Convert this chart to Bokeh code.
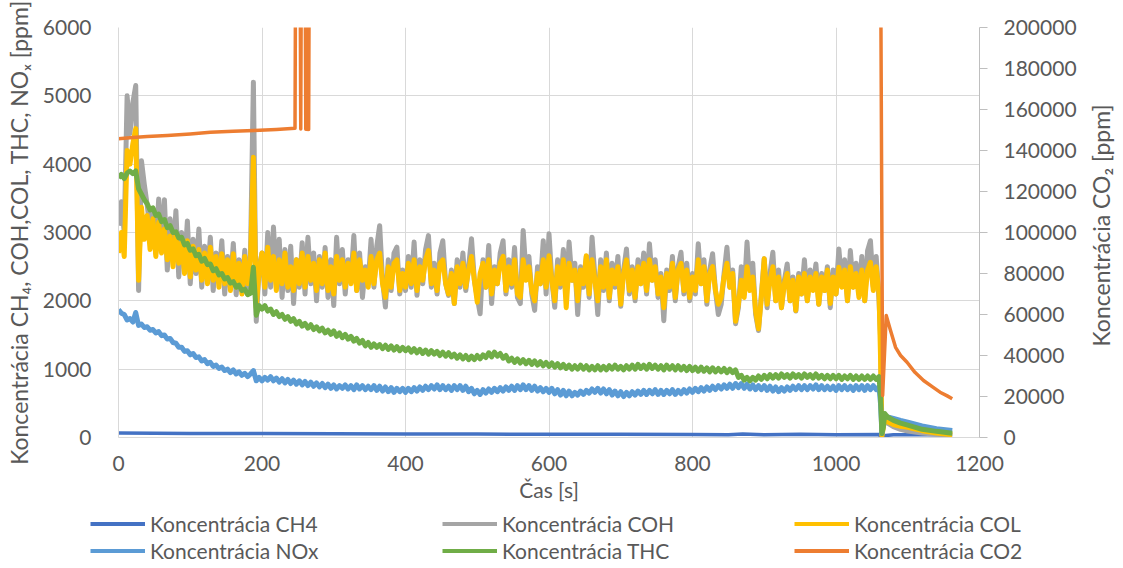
import math
from bokeh.plotting import figure
from bokeh.layouts import column, row
from bokeh.models import Range1d, LinearAxis, FixedTicker, Legend, LegendItem, BasicTickFormatter, Label
from bokeh.embed import file_html
from bokeh.resources import INLINE

# ---------------- data ----------------
time_main = list(range(0, 1061, 4))          # sampling grid 0..1060 s
time_tail = [1062, 1064, 1066, 1068, 1072, 1080, 1090, 1100, 1120, 1140, 1162]

coh_main = [
    3100, 3450, 3000, 5000, 4450, 4900, 5150, 2150, 4050, 3700,
    3400, 3050, 3350, 2700, 3490, 2800, 3480, 2450, 3200, 2600,
    3320, 2350, 3000, 2500, 3170, 2250, 2900, 2400, 3050, 2200,
    2800, 2350, 2930, 2150, 2700, 2300, 2880, 2100, 2650, 2200,
    2840, 2090, 2600, 2150, 2740, 2100, 2690, 5200, 1700, 2500,
    2700, 2100, 3000, 2200, 3080, 2300, 2900, 2050, 2750, 2150,
    2800, 1960, 2600, 2200, 2850, 2100, 2930, 2250, 2700, 2000,
    2650, 2200, 2780, 2050, 2600, 1930, 2930, 2250, 2750, 2100,
    2600, 2300, 2955, 2150, 2700, 2050, 2500, 2250, 2900, 2200,
    2800, 3100, 2300, 1910, 2600, 2150, 2700, 2785, 2100, 2450,
    2150, 2650, 2200, 2860, 2080, 2600, 2250, 2750, 2955, 2200,
    2550, 2100, 2700, 2880, 2250, 2080, 2450, 1960, 2600, 2200,
    2700, 2150, 2500, 2910, 2300, 2050, 1810, 2600, 2200, 2810,
    1960, 2500, 2250, 2700, 2880, 2100, 2600, 2200, 2780, 2050,
    1960, 3030, 2400, 2650, 2100, 1860, 2500, 2250, 2880, 2100,
    2980, 2300, 1905, 2600, 2200, 2750, 2100, 2860, 2300, 2550,
    1800, 2500, 2200, 2650, 2050, 2930, 2350, 1800, 2600, 2150,
    2700, 2000, 2550, 2200, 2650, 1920, 2450, 2760, 2100, 2500,
    2000, 2600, 2250, 2700, 2100, 2835, 2300, 2600, 2050, 2400,
    1710, 2450, 2150, 2650, 2000, 2500, 2710, 2100, 2550, 2000,
    2400, 2100, 2835, 2250, 2600, 1950, 2450, 2690, 2150, 1800,
    1950, 2400, 2785, 2200, 2450, 1665, 1900, 2500, 2100, 2860,
    2200, 2550, 1800, 1565, 2100, 2615, 1900, 2400, 2710, 2000,
    2450, 1900, 2300, 2540, 2000, 2350, 1850, 2400, 2100, 2600,
    2000, 2450, 2200, 2540, 1950, 2400, 2150, 2500, 1900, 2450,
    2100, 2760, 2250, 2600, 2000, 2735, 2200, 2550, 2100, 2650,
    2000, 2735, 2880, 2200, 2650, 2000,
]
coh_tail = [1500, 50, 200, 250, 210, 160, 120, 95, 65, 48, 35]

col_main = [
    2700, 3000, 2650, 4200, 4000, 4300, 4520, 2300, 3370, 2900,
    3250, 2750, 3200, 2650, 3150, 2700, 3050, 2600, 2950, 2500,
    2980, 2550, 2850, 2400, 2880, 2350, 2800, 2450, 2750, 2300,
    2700, 2250, 2785, 2300, 2650, 2200, 2690, 2250, 2600, 2150,
    2690, 2200, 2550, 2100, 2650, 2250, 2600, 4100, 1900, 2450,
    2700, 2200, 2785, 2300, 2650, 2150, 2600, 2250, 2700, 2200,
    2500, 2150, 2600, 2250, 2700, 2200, 2650, 2300, 2550, 2150,
    2600, 2250, 2700, 2150, 2500, 2100, 2650, 2300, 2600, 2200,
    2550, 2250, 2700, 2150, 2600, 2300, 2450, 2200, 2650, 2250,
    2600, 2700, 2250, 2050, 2500, 2200, 2550, 2600, 2150, 2400,
    2200, 2550, 2250, 2600, 2150, 2500, 2300, 2600, 2735, 2250,
    2450, 2150, 2550, 2600, 2250, 2100, 2400, 1960, 2500, 2250,
    2550, 2200, 2450, 2650, 2300, 1980, 2400, 2550, 2200, 2600,
    2100, 2450, 2250, 2550, 2650, 2150, 2500, 2250, 2600, 2100,
    2050, 2600, 2300, 2500, 2150, 2000, 2400, 2250, 2600, 2200,
    2660, 2300, 2000, 2500, 2250, 2600, 1900, 2550, 2300, 2450,
    2000, 2450, 2250, 2660, 2100, 2600, 2300, 2000, 2500, 2200,
    2600, 2050, 2450, 2250, 2500, 1950, 2400, 2600, 2150, 2450,
    2050, 2500, 2250, 2550, 2150, 2600, 2300, 2500, 2100, 2350,
    1900, 2400, 2200, 2550, 2050, 2450, 2550, 2150, 2450, 2050,
    2350, 2150, 2600, 2250, 2500, 2000, 2400, 2500, 2150, 1950,
    2050, 2350, 2550, 2200, 2400, 1700, 1950, 2300, 2050, 2500,
    2150, 2350, 1850, 1590, 2050, 2615, 1950, 2300, 2500, 2000,
    2350, 1900, 2250, 2400, 2000, 2300, 1860, 2350, 2100, 2400,
    2000, 2350, 2150, 2400, 1950, 2350, 2150, 2450, 1960, 2350,
    2100, 2490, 2200, 2450, 2000, 2500, 2200, 2400, 2050, 2450,
    2000, 2450, 2565, 2150, 2500, 2100,
]
col_tail = [1200, 20, 150, 280, 230, 190, 165, 150, 100, 65, 39]

nox_main = [
    1870, 1820, 1800, 1720, 1740, 1690, 1830, 1640, 1660, 1610,
    1620, 1570, 1580, 1530, 1550, 1490, 1500, 1440, 1450, 1390,
    1380, 1320, 1320, 1260, 1270, 1210, 1230, 1170, 1180, 1120,
    1140, 1080, 1100, 1040, 1060, 1010, 1030, 980, 1000, 950,
    990, 930, 960, 910, 940, 890, 930, 980, 830, 880,
    830, 880, 840, 890, 830, 870, 810, 860, 800, 850,
    790, 840, 780, 830, 770, 820, 760, 810, 750, 800,
    740, 790, 730, 780, 720, 770, 710, 760, 720, 770,
    710, 760, 700, 770, 710, 760, 700, 750, 700, 760,
    690, 750, 680, 740, 670, 730, 660, 720, 670, 720,
    660, 720, 670, 730, 680, 740, 690, 750, 700, 760,
    710, 770, 700, 760, 700, 750, 690, 760, 700, 760,
    690, 750, 670, 720, 640, 690, 630, 700, 650, 710,
    660, 720, 670, 730, 680, 740, 690, 750, 690, 760,
    700, 770, 700, 760, 690, 750, 680, 730, 670, 720,
    660, 720, 640, 700, 620, 690, 610, 680, 610, 660,
    620, 680, 630, 690, 650, 710, 660, 720, 650, 710,
    640, 700, 620, 680, 610, 670, 600, 660, 610, 670,
    620, 680, 630, 690, 630, 690, 640, 700, 630, 690,
    630, 690, 640, 700, 630, 690, 640, 700, 650, 710,
    660, 720, 670, 730, 680, 740, 690, 750, 700, 760,
    710, 770, 720, 780, 720, 790, 730, 790, 720, 780,
    710, 770, 700, 760, 700, 760, 690, 750, 680, 740,
    670, 730, 680, 740, 690, 750, 700, 760, 700, 760,
    700, 760, 710, 770, 700, 760, 700, 750, 700, 750,
    690, 760, 700, 760, 700, 750, 690, 760, 700, 760,
    690, 760, 700, 760, 700, 740,
]
nox_tail = [500, 60, 250, 320, 300, 280, 250, 225, 170, 130, 102]

thc_main = [
    3800, 3850, 3790, 3870, 3900, 3860, 3900, 3640, 3560, 3480,
    3420, 3330, 3360, 3250, 3270, 3160, 3190, 3070, 3100, 3000,
    3010, 2920, 2930, 2820, 2840, 2740, 2760, 2660, 2680, 2580,
    2620, 2530, 2540, 2440, 2470, 2380, 2400, 2320, 2340, 2260,
    2280, 2200, 2230, 2150, 2170, 2090, 2110, 2490, 1790, 1930,
    1880, 1930, 1850, 1880, 1800, 1840, 1770, 1800, 1730, 1770,
    1700, 1740, 1660, 1700, 1630, 1670, 1600, 1650, 1580, 1620,
    1560, 1600, 1530, 1570, 1510, 1560, 1480, 1530, 1460, 1510,
    1440, 1480, 1410, 1450, 1380, 1420, 1340, 1390, 1320, 1370,
    1320, 1360, 1300, 1350, 1290, 1340, 1280, 1330, 1270, 1320,
    1270, 1310, 1250, 1300, 1240, 1290, 1230, 1280, 1220, 1270,
    1220, 1260, 1200, 1250, 1190, 1240, 1180, 1220, 1160, 1210,
    1150, 1200, 1140, 1190, 1140, 1200, 1150, 1210, 1170, 1240,
    1180, 1250, 1190, 1230, 1160, 1200, 1120, 1160, 1100, 1150,
    1090, 1140, 1080, 1130, 1070, 1120, 1060, 1110, 1050, 1100,
    1040, 1090, 1030, 1080, 1020, 1070, 1010, 1060, 1000, 1050,
    1000, 1060, 1000, 1050, 990, 1040, 990, 1050, 990, 1040,
    990, 1050, 1000, 1060, 1000, 1040, 990, 1050, 1000, 1060,
    1000, 1070, 1010, 1060, 1000, 1070, 1010, 1060, 1000, 1050,
    990, 1060, 1000, 1050, 990, 1050, 990, 1040, 980, 1040,
    980, 1030, 970, 1030, 970, 1020, 960, 1020, 960, 1010,
    960, 1010, 950, 1000, 950, 990, 880, 910, 840, 880,
    830, 880, 840, 900, 850, 910, 860, 920, 870, 920,
    870, 930, 880, 920, 870, 930, 880, 920, 870, 930,
    880, 920, 870, 930, 870, 910, 860, 910, 860, 910,
    860, 910, 850, 900, 860, 910, 850, 900, 850, 900,
    850, 900, 850, 900, 850, 890,
]
thc_tail = [600, 60, 150, 350, 300, 250, 210, 180, 120, 90, 63]

time_ch4 = [0, 50, 100, 150, 200, 300, 400, 500, 600, 700, 800, 850, 870, 900,
            950, 1000, 1060, 1063, 1066, 1080, 1120, 1162]
ch4 = [65, 63, 60, 58, 57, 54, 52, 50, 48, 46, 44, 42, 50, 40,
       48, 42, 45, 0, 25, 40, 42, 42]

time_co2 = [0, 20, 40, 68, 100, 128, 160, 189, 220, 246,
            247, 253, 254, 255, 260, 261, 262, 263, 264, 265,
            266, 1062, 1065, 1070, 1076, 1083, 1090, 1099, 1110, 1122,
            1135, 1145, 1155, 1162]
co2 = [145700, 146300, 146800, 147300, 148100, 148900, 149400, 149800, 150300, 150900,
       250000, 250000, 150500, 250000, 250000, 150400, 250000, 150300, 250000, 150300,
       250000, 250000, 20500, 59500, 52200, 44000, 40000, 36700, 31800, 27800,
       24600, 22100, 20300, 18900]

x_ticks = [0, 200, 400, 600, 800, 1000, 1200]
y_ticks = [0, 1000, 2000, 3000, 4000, 5000, 6000]
y2_ticks = [0, 20000, 40000, 60000, 80000, 100000, 120000, 140000, 160000, 180000, 200000]

labels = ["Koncentrácia CH4", "Koncentrácia COH", "Koncentrácia COL",
          "Koncentrácia NOx", "Koncentrácia THC", "Koncentrácia CO2"]
colors = ["#4472C4", "#A5A5A5", "#FFC000", "#5B9BD5", "#70AD47", "#ED7D31"]
widths = [3.5, 5, 5, 5, 5, 3.5]
left_title = "Koncentrácia CH₄, COH,COL, THC, NOₓ [ppm]"
right_title = "Koncentrácia CO₂ [ppm]"
x_title = "Čas [s]"

# ---------------- main figure ----------------
FONT = "Lato"
TXT = "#595959"
FS = "21px"

p = figure(width=1083, height=505, output_backend="svg", toolbar_location=None,
           x_range=Range1d(0, 1200), y_range=Range1d(0, 6000))
p.extra_y_ranges = {"co2": Range1d(0, 200000)}
p.min_border_left = 118
p.min_border_right = 104
p.min_border_top = 27
p.min_border_bottom = 68
p.outline_line_color = None
p.background_fill_color = "white"
p.border_fill_color = "white"

t_full = time_main + time_tail
p.line(time_ch4, ch4, color=colors[0], line_width=widths[0], line_join="round")
p.line(t_full, coh_main + coh_tail, color=colors[1], line_width=widths[1], line_join="round")
p.line(t_full, col_main + col_tail, color=colors[2], line_width=widths[2], line_join="round")
p.line(t_full, nox_main + nox_tail, color=colors[3], line_width=widths[3], line_join="round")
p.line(t_full, thc_main + thc_tail, color=colors[4], line_width=widths[4], line_join="round")
p.line(time_co2, co2, color=colors[5], line_width=widths[5], line_join="round", y_range_name="co2")

# grids
p.xgrid.ticker = FixedTicker(ticks=x_ticks)
p.ygrid.ticker = FixedTicker(ticks=y_ticks)
for g in (p.xgrid, p.ygrid):
    g.grid_line_color = "#D9D9D9"
    g.grid_line_width = 1

# x axis
xa = p.xaxis[0]
xa.ticker = FixedTicker(ticks=x_ticks)
xa.axis_label = x_title
xa.axis_line_color = "#D9D9D9"
xa.major_tick_line_color = None
xa.minor_tick_line_color = None
xa.major_label_standoff = 12
xa.axis_label_standoff = 3

# left axis
ya = p.yaxis[0]
ya.ticker = FixedTicker(ticks=y_ticks)
ya.axis_label = left_title
ya.axis_line_color = "#D9D9D9"
ya.major_tick_line_color = None
ya.minor_tick_line_color = None
ya.major_label_standoff = 21
ya.axis_label_standoff = 7

# right axis (title drawn separately so it reads bottom-to-top)
ra = LinearAxis(y_range_name="co2", ticker=FixedTicker(ticks=y2_ticks),
                formatter=BasicTickFormatter(use_scientific=False))
ra.axis_line_color = "#BFBFBF"
ra.major_tick_line_color = "#BFBFBF"
ra.major_tick_out = 8
ra.major_tick_in = 0
ra.minor_tick_line_color = None
ra.major_label_standoff = 16
p.add_layout(ra, "right")

for ax in (xa, ya, ra):
    ax.major_label_text_font = FONT
    ax.major_label_text_font_size = FS
    ax.major_label_text_color = TXT
    ax.axis_label_text_font = FONT
    ax.axis_label_text_font_size = FS
    ax.axis_label_text_color = TXT
    ax.axis_label_text_font_style = "normal"
ya.axis_label_text_font_size = "23px"

# ---------------- right title strip ----------------
rt = figure(width=40, height=505, output_backend="svg", toolbar_location=None,
            x_range=Range1d(0, 1), y_range=Range1d(0, 1),
            x_axis_type=None, y_axis_type=None, min_border=0)
rt.outline_line_color = None
rt.xgrid.visible = False
rt.ygrid.visible = False
rt.add_layout(Label(x=17, y=280, x_units="screen", y_units="screen", text=right_title,
                    angle=math.pi / 2, text_align="center", text_baseline="middle",
                    text_font=FONT, text_font_size="23px", text_color=TXT))

# ---------------- legend strip ----------------
lg = figure(width=1123, height=63, output_backend="svg", toolbar_location=None,
            x_range=Range1d(0, 1), y_range=Range1d(0, 1),
            x_axis_type=None, y_axis_type=None, min_border=0)
lg.outline_line_color = None
lg.xgrid.visible = False
lg.ygrid.visible = False
for fig in (p, rt, lg):
    if "frame_align" in fig.properties():
        fig.frame_align = False
items = []
for lab, c in zip(labels, colors):
    # swatch-only renderer, placed outside the strip's visible range
    r = lg.line([5, 6], [5, 5], color=c, line_width=4)
    items.append(LegendItem(label=lab, renderers=[r]))
legend = Legend(items=items, location=(90, 4), orientation="horizontal", ncols=3,
                glyph_width=55, glyph_height=27, label_height=27, label_width=292,
                label_standoff=5, spacing=0, padding=0, margin=0,
                border_line_color=None, background_fill_alpha=0,
                label_text_font=FONT, label_text_font_size=FS, label_text_color=TXT)
lg.add_layout(legend, "center")

layout = column(row(p, rt, spacing=0), lg, spacing=0)
open("out.html", "w").write(file_html(layout, INLINE))
